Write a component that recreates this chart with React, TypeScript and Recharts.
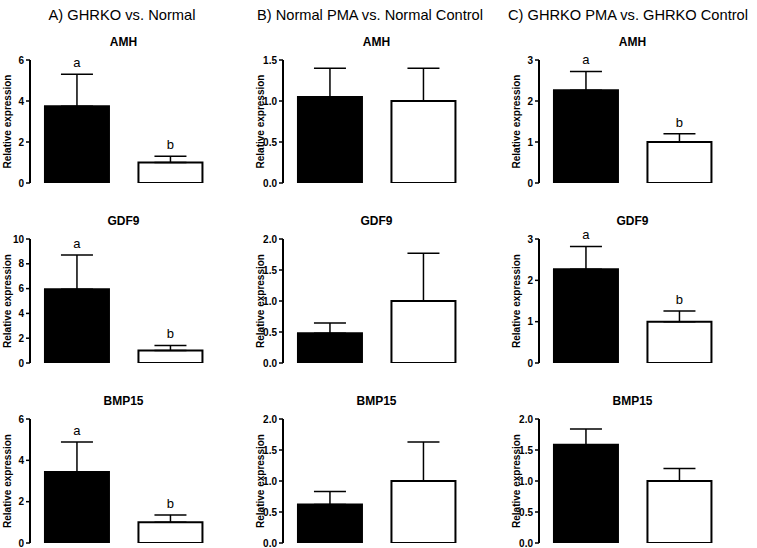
import React from 'react';
import { BarChart, Bar, XAxis, YAxis, ErrorBar, Cell, LabelList } from 'recharts';

const columnTitles = ['A) GHRKO vs. Normal', 'B) Normal PMA vs. Normal Control', 'C) GHRKO PMA vs. GHRKO Control'];
const geneNames = ['AMH', 'GDF9', 'BMP15'];
const groupLabels = [
  ['GHRKO', 'Normal'],
  ['Normal PMA', 'Normal Control'],
  ['GHRKO PMA', 'GHRKO Control'],
];

// [black bar, white bar] per column (A, B, C)
const amhMeans = [[3.75, 1.0], [1.05, 1.0], [2.26, 1.0]];
const amhErrors = [[1.55, 0.31], [0.35, 0.4], [0.46, 0.2]];
const gdf9Means = [[5.95, 1.0], [0.48, 1.0], [2.27, 1.0]];
const gdf9Errors = [[2.75, 0.42], [0.165, 0.77], [0.55, 0.26]];
const bmp15Means = [[3.44, 1.0], [0.62, 1.0], [1.585, 1.0]];
const bmp15Errors = [[1.45, 0.36], [0.21, 0.63], [0.255, 0.2]];
const amhLetters = [['a', 'b'], ['', ''], ['a', 'b']];
const gdf9Letters = [['a', 'b'], ['', ''], ['a', 'b']];
const bmp15Letters = [['a', 'b'], ['', ''], ['', '']];

// [row][col]
const yMaxima = [[6, 1.5, 3], [10, 2, 3], [6, 2, 2]];
const yTickSteps = [[2, 0.5, 1], [2, 0.5, 1], [2, 0.5, 0.5]];
const yTickDecimals = [[0, 1, 0], [0, 1, 0], [0, 1, 1]];
const barColors = ['#000000', '#ffffff'];
const yAxisLabel = 'Relative expression';

const meansByRow = [amhMeans, gdf9Means, bmp15Means];
const errorsByRow = [amhErrors, gdf9Errors, bmp15Errors];
const lettersByRow = [amhLetters, gdf9Letters, bmp15Letters];

// layout
const FONT = '"Liberation Sans", Arial, Helvetica, sans-serif';
const PLOT_LEFT = [30, 283, 539];
const PLOT_TOP = [60, 239, 419];
const PLOT_H = [123, 124, 124];
const PLOT_W = 187;
const AXIS_W = 28;
const MT = 20;
const MB = 8;
const MR = 4;
const TITLE_X = [122, 370, 628];
const TITLE_LEN = [147, 226, 240];

function Panel({ row, col }: { row: number; col: number }) {
  const means = meansByRow[row][col];
  const errs = errorsByRow[row][col];
  const letters = lettersByRow[row][col];
  const yMax = yMaxima[row][col];
  const step = yTickSteps[row][col];
  const dec = yTickDecimals[row][col];
  const data = groupLabels[col].map((g, i) => ({
    group: g,
    mean: means[i],
    err: [0, errs[i]],
    errTop: errs[i],
    letter: letters[i],
  }));
  const ticks: number[] = [];
  const n = Math.round(yMax / step);
  for (let k = 0; k <= n; k++) ticks.push(+(k * step).toFixed(3));
  return (
    <div style={{ position: 'absolute', left: PLOT_LEFT[col] - AXIS_W, top: PLOT_TOP[row] - MT }}>
      <BarChart
        width={AXIS_W + PLOT_W + MR}
        height={MT + PLOT_H[row] + MB}
        data={data}
        margin={{ top: MT, right: MR, bottom: MB, left: 0 }}
        barCategoryGap="16%"
      >
        <XAxis
          dataKey="group"
          height={0}
          tick={false}
          tickLine={false}
          axisLine={{ stroke: '#000', strokeWidth: 2 }}
        />
        <YAxis
          width={AXIS_W}
          type="number"
          domain={[0, yMax]}
          ticks={ticks}
          allowDataOverflow
          interval={0}
          tickSize={4}
          tickMargin={2}
          tickLine={{ stroke: '#000', strokeWidth: 1.5 }}
          axisLine={{ stroke: '#000', strokeWidth: 2 }}
          tick={{ fill: '#000', fontSize: 10, fontWeight: 'bold', fontFamily: FONT }}
          tickFormatter={(v: number) => Number(v).toFixed(dec)}
        />
        <Bar dataKey="mean" stackId="s" stroke="#000" strokeWidth={2} isAnimationActive={false}>
          {data.map((d, i) => (
            <Cell key={i} fill={barColors[i]} />
          ))}
          <ErrorBar dataKey="err" width={16} stroke="#000" strokeWidth={1.5} direction="y" />
        </Bar>
        <Bar dataKey="errTop" stackId="s" fill="none" stroke="none" isAnimationActive={false}>
          <LabelList dataKey="letter" position="top" offset={7} fill="#000" fontSize={13} fontFamily={FONT} />
        </Bar>
      </BarChart>
    </div>
  );
}

export default function App() {
  const panels = [];
  for (let r = 0; r < 3; r++) for (let c = 0; c < 3; c++) panels.push(<Panel key={`${r}-${c}`} row={r} col={c} />);
  return (
    <div
      style={{
        position: 'absolute',
        left: 0,
        top: 0,
        width: 757,
        height: 548,
        background: '#fff',
        overflow: 'hidden',
        fontFamily: FONT,
      }}
    >
      {panels}
      <svg width={757} height={548} style={{ position: 'absolute', left: 0, top: 0, pointerEvents: 'none' }}>
        {columnTitles.map((t, c) => (
          <text
            key={t}
            x={TITLE_X[c]}
            y={20}
            textAnchor="middle"
            fontSize={15}
            fontFamily={FONT}
            fill="#000"
            textLength={TITLE_LEN[c]}
            lengthAdjust="spacingAndGlyphs"
          >
            {t}
          </text>
        ))}
        {geneNames.map((g, r) =>
          [0, 1, 2].map((c) => (
            <text
              key={`${g}-${c}`}
              x={PLOT_LEFT[c] + PLOT_W / 2}
              y={PLOT_TOP[r] - 14}
              textAnchor="middle"
              fontSize={12}
              fontWeight="bold"
              fontFamily={FONT}
              fill="#000"
            >
              {g}
            </text>
          ))
        )}
        {[0, 1, 2].map((r) =>
          [0, 1, 2].map((c) => {
            const x = PLOT_LEFT[c] - 23;
            const y = PLOT_TOP[r] + PLOT_H[r] / 2;
            return (
              <text
                key={`yl-${r}-${c}`}
                x={x}
                y={y}
                transform={`rotate(-90, ${x}, ${y})`}
                textAnchor="middle"
                dominantBaseline="central"
                fontSize={10}
                fontWeight="bold"
                fontFamily={FONT}
                fill="#000"
              >
                {yAxisLabel}
              </text>
            );
          })
        )}
      </svg>
    </div>
  );
}
